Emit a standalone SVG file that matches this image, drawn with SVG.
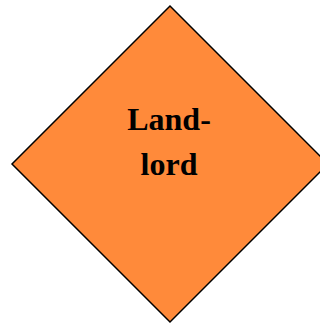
<svg xmlns="http://www.w3.org/2000/svg" width="320" height="324" viewBox="0 0 320 324">
<style>
.shape{fill:#FF8A3A;stroke:#000;stroke-width:1.5}
.lbl{font-family:"Liberation Serif","Times New Roman",serif;font-weight:bold;font-size:32px;fill:#000;text-anchor:middle}
</style>
<rect width="320" height="324" fill="#fff"/>
<g id="landlord">
<polygon class="shape" points="170,6 328,164 170,322 12,164"/>
<text class="lbl" x="169" y="130">Land-</text>
<text class="lbl" x="169" y="175">lord</text>
</g>
<g id="connectors"/>
</svg>
